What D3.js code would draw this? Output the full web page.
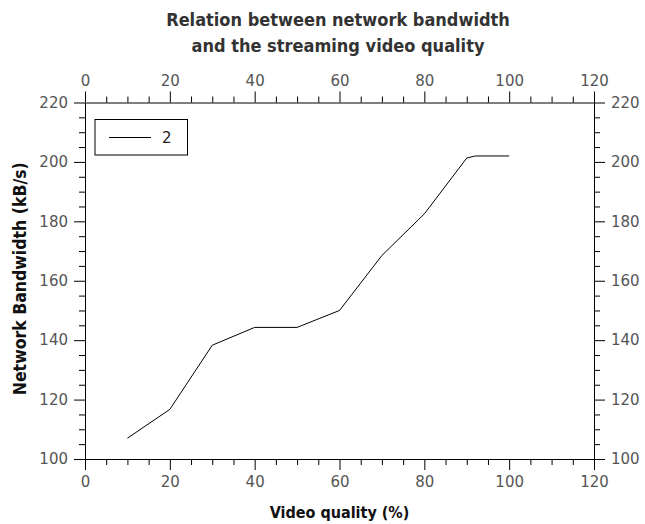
<!DOCTYPE html>
<html>
<head>
<meta charset="utf-8">
<script src="https://cdn.jsdelivr.net/npm/d3@7"></script>
<style>
  body { margin: 0; background: #fff; }
  text { font-family: "DejaVu Sans", sans-serif; }
  .tick text { fill: #555; font-size: 15px; }
  .domain, .tick line { stroke: #000; }
  .lbl { font-family: "DejaVu Sans Condensed", "DejaVu Sans", sans-serif; font-weight: bold; }
</style>
</head>
<body>
<script>
// video quality (%) vs bandwidth (kB/s)
const quality = [10, 20, 30, 40, 50, 60, 70, 80, 90, 92, 100]
const bandwidth = [107, 116.7, 138.3, 144.3, 144.3, 150, 168.5, 182.5, 201.3, 202, 202]
const xTicks = [0, 20, 40, 60, 80, 100, 120]
const yTicks = [100, 120, 140, 160, 180, 200, 220]
const seriesName = '2'

const width = 645, height = 524
const m = {left: 85, right: 51, top: 102.5, bottom: 65}

const svg = d3.select('body').append('svg')
    .attr('width', width)
    .attr('height', height)

const x = d3.scaleLinear().domain([0, 120]).range([m.left, width - m.right])
const y = d3.scaleLinear().domain([100, 220]).range([height - m.bottom, m.top])

const minorX = d3.range(0, 121, 5).filter(v => v % 20)
const minorY = d3.range(100, 221, 5).filter(v => v % 20)

// axes: major + minor on all four sides
const sides = [
    {axis: d3.axisBottom, scale: x, ticks: xTicks, minor: minorX, t: `translate(0,${y(100)})`},
    {axis: d3.axisTop, scale: x, ticks: xTicks, minor: minorX, t: `translate(0,${y(220)})`},
    {axis: d3.axisLeft, scale: y, ticks: yTicks, minor: minorY, t: `translate(${x(0)},0)`},
    {axis: d3.axisRight, scale: y, ticks: yTicks, minor: minorY, t: `translate(${x(120)},0)`}
]
sides.forEach(s => {
    svg.append('g')
        .attr('transform', s.t)
        .call(s.axis(s.scale).tickValues(s.minor).tickSize(6).tickFormat(''))
        .call(g => g.select('.domain').remove())
    svg.append('g')
        .attr('transform', s.t)
        .call(s.axis(s.scale).tickValues(s.ticks).tickSize(11).tickSizeOuter(0).tickPadding(6).tickFormat(d3.format('d')))
})
svg.selectAll('.tick text').style('font-family', '"DejaVu Sans", sans-serif')

const line = d3.line()
    .x((d, i) => x(quality[i]))
    .y(d => y(d))

svg.append('path')
    .datum(bandwidth)
    .attr('fill', 'none')
    .attr('stroke', '#000')
    .attr('stroke-width', 1)
    .attr('d', line)

// legend
const leg = svg.append('g').attr('transform', 'translate(95,119.5)')
leg.append('rect')
    .attr('width', 92.5).attr('height', 35.5)
    .attr('fill', '#fff').attr('stroke', '#000')
leg.append('line')
    .attr('x1', 14).attr('x2', 56).attr('y1', 18).attr('y2', 18)
    .attr('stroke', '#000')
leg.append('text')
    .attr('x', 67).attr('y', 23.5)
    .attr('font-size', 15).attr('fill', '#222')
    .text(seriesName)

// titles
const title = svg.append('text')
    .attr('class', 'lbl')
    .attr('text-anchor', 'middle')
    .attr('font-size', 18).attr('fill', '#333')
title.append('tspan').attr('x', 338).attr('y', 26).text('Relation between network bandwidth')
title.append('tspan').attr('x', 338).attr('y', 52).text('and the streaming video quality')

svg.append('text')
    .attr('class', 'lbl')
    .attr('x', x(60)).attr('y', 518)
    .attr('text-anchor', 'middle')
    .attr('font-size', 16).attr('fill', '#111')
    .text('Video quality (%)')

svg.append('text')
    .attr('class', 'lbl')
    .attr('transform', `translate(26,${y(160) - 2}) rotate(-90)`)
    .attr('text-anchor', 'middle')
    .attr('font-size', 17.5).attr('fill', '#111')
    .text('Network Bandwidth (kB/s)')
</script>
</body>
</html>
